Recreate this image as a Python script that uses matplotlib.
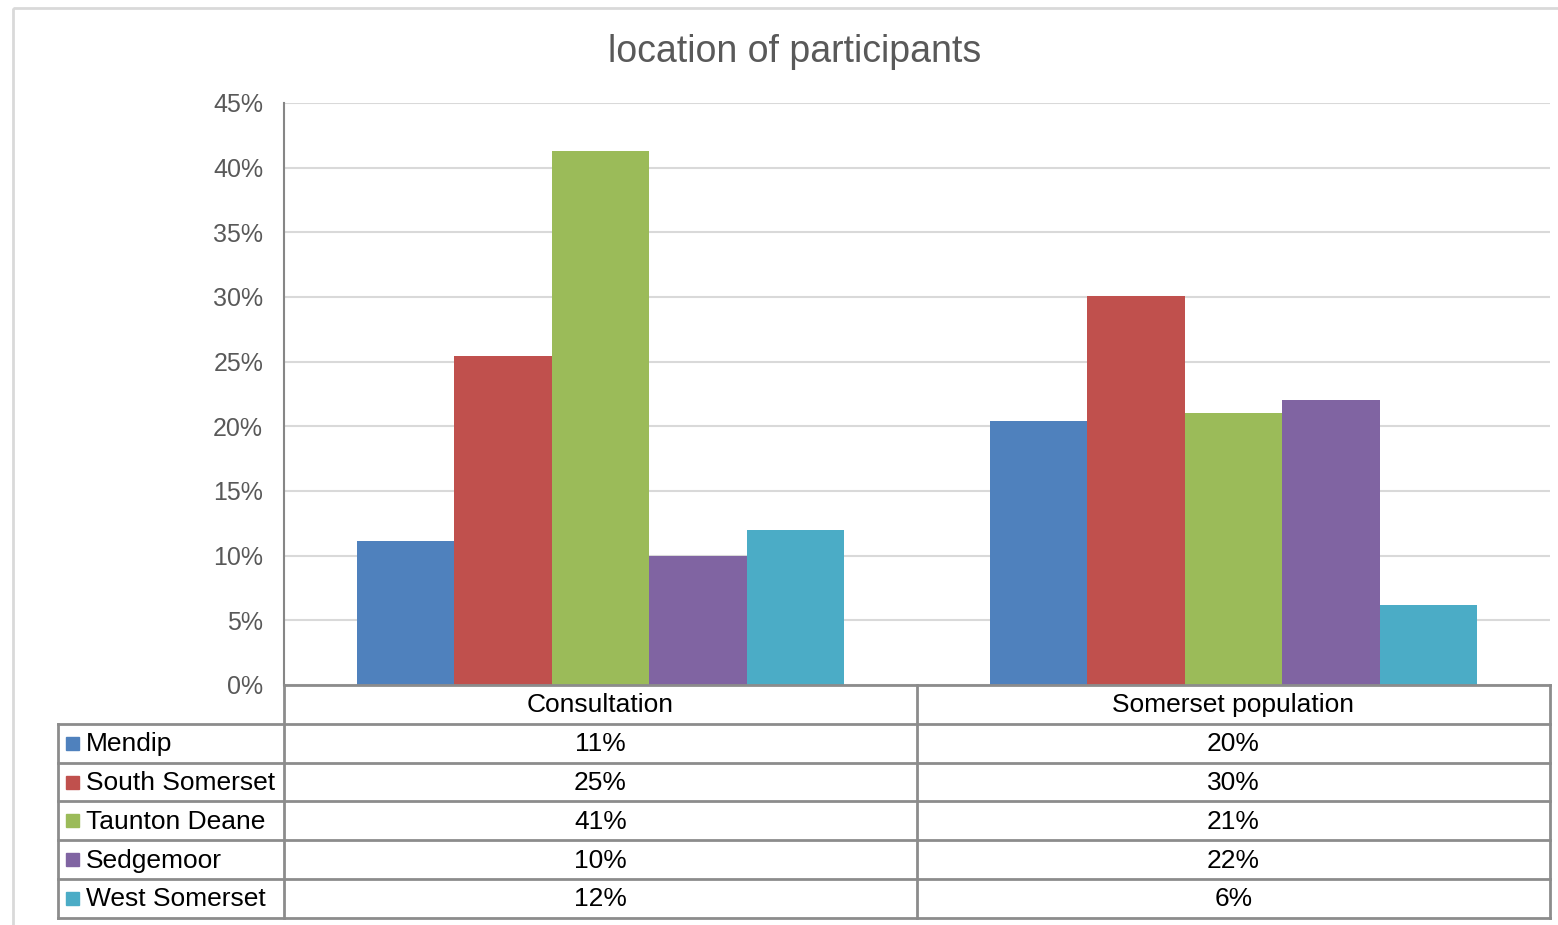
import matplotlib.pyplot as plt
import numpy as np
from matplotlib.patches import Rectangle

plt.rcParams['font.family'] = ['Liberation Sans', 'DejaVu Sans']

categories = ['Consultation', 'Somerset population']
districts = ['Mendip', 'South Somerset', 'Taunton Deane', 'Sedgemoor', 'West Somerset']
consultation = [11.1, 25.4, 41.3, 10.0, 12.0]
population = [20.4, 30.1, 21.0, 22.0, 6.2]
table_labels = [['11%', '20%'], ['25%', '30%'], ['41%', '21%'], ['10%', '22%'], ['12%', '6%']]
colors = ['#4F81BD', '#C0504D', '#9BBB59', '#8064A2', '#4BACC6']

W, H = 1558, 925
fig = plt.figure(figsize=(W / 100, H / 100), dpi=100)

# plot area in pixels
px_left, px_right, px_top, px_bottom = 284, 1550, 103, 685
ax = fig.add_axes([px_left / W, 1 - px_bottom / H, (px_right - px_left) / W, (px_bottom - px_top) / H])

values = np.array([consultation, population]).T
x = np.arange(len(categories))
bw = 0.154
for i, name in enumerate(districts):
    ax.bar(x + (i - 2) * bw, values[i], width=bw, color=colors[i], edgecolor='none', zorder=3)

ax.set_xlim(-0.5, 1.5)
ax.set_ylim(0, 45)
ax.set_yticks(np.arange(0, 46, 5))
ax.set_yticklabels([f'{v}%' for v in range(0, 46, 5)], fontsize=18, color='#595959')
ax.set_xticks([])
ax.tick_params(axis='y', length=0, pad=15)
ax.grid(axis='y', color='#d9d9d9', linewidth=1.5, zorder=0)
for s in ['top', 'right', 'bottom']:
    ax.spines[s].set_visible(False)
ax.spines['left'].set_color('#868686')
ax.spines['left'].set_linewidth(1.5)

fig.suptitle('location of participants', x=795 / W, y=1 - 52 / H, va='center', fontsize=27, color='#595959')

# overlay axes in pixel coordinates for the data table and chart border
ov = fig.add_axes([0, 0, 1, 1])
ov.set_xlim(0, W)
ov.set_ylim(H, 0)
ov.axis('off')
ov.add_patch(Rectangle((13, 8), W + 20, H + 20, fill=False, edgecolor='#d9d9d9', linewidth=2))

line_c = '#8c8c8c'
lw = 2
legend_left = 58
col_mid = (px_left + px_right) / 2
row_h = 38.8
rows_y = [px_bottom + k * row_h for k in range(len(districts) + 2)]

# horizontal lines
ov.plot([px_left, px_right], [rows_y[0]] * 2, color=line_c, lw=lw)
for yy in rows_y[1:]:
    ov.plot([legend_left, px_right], [yy, yy], color=line_c, lw=lw)
# vertical lines
ov.plot([px_left, px_left], [rows_y[0], rows_y[-1]], color=line_c, lw=lw)
ov.plot([col_mid, col_mid], [rows_y[0], rows_y[-1]], color=line_c, lw=lw)
ov.plot([px_right, px_right], [rows_y[0], rows_y[-1]], color=line_c, lw=lw)
ov.plot([legend_left, legend_left], [rows_y[1], rows_y[-1]], color=line_c, lw=lw)

col_centers = [(px_left + col_mid) / 2, (col_mid + px_right) / 2]
for j, cat in enumerate(categories):
    ov.text(col_centers[j], (rows_y[0] + rows_y[1]) / 2 + 1, cat, ha='center', va='center', fontsize=19, color='black')

for i, name in enumerate(districts):
    yc = (rows_y[i + 1] + rows_y[i + 2]) / 2
    ov.add_patch(Rectangle((66, yc - 6.5), 13, 13, color=colors[i]))
    ov.text(86, yc + 1, name, ha='left', va='center', fontsize=19, color='black')
    for j in range(len(categories)):
        ov.text(col_centers[j], yc + 1, table_labels[i][j], ha='center', va='center', fontsize=19, color='black')

fig.savefig('out.png', dpi=100)
